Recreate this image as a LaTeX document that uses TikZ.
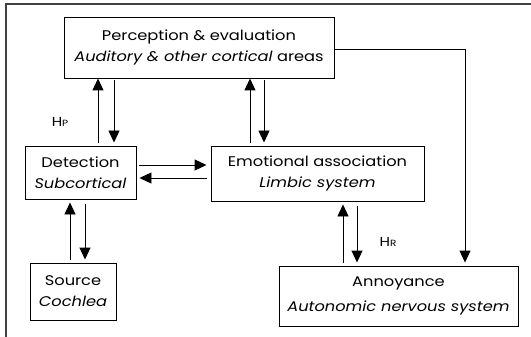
\documentclass[tikz,border=0pt]{standalone}
\usepackage{fontspec}
\setmainfont{Poppins}[FakeStretch=1.16]
\usetikzlibrary{arrows.meta}
\begin{document}
\begin{tikzpicture}[x=1pt,y=-1pt,
  box/.style={draw=black,line width=0.9pt,align=center,inner sep=0pt,font=\fontsize{14}{21}\selectfont},
  arr/.style={line width=0.9pt,-{Triangle[length=12pt,width=11pt]}},
  ln/.style={line width=0.9pt},
  lbl/.style={font=\fontsize{13}{15}\selectfont}]
\useasboundingbox (0,0) rectangle (531,337);
\draw[line width=1.4pt,draw=black!75] (6,337) -- (6,4) -- (531,4);
\node[box,minimum width=270pt,minimum height=61pt] (perc) at (199,47.5)
  {Perception \& evaluation\\ \textit{Auditory \& other cortical} areas};
\node[box,minimum width=111pt,minimum height=53pt] (det) at (80.5,172.5)
  {Detection\\ \textit{Subcortical}};
\node[box,minimum width=213pt,minimum height=55pt] (emo) at (317.5,173.5)
  {Emotional association\\ \textit{Limbic system}};
\node[box,minimum width=86pt,minimum height=57pt] (src) at (73,291.5)
  {Source\\ \textit{Cochlea}};
\node[box,minimum width=239pt,minimum height=60pt,font=\fontsize{14}{25}\selectfont] (ann) at (398.5,296)
  {Annoyance\\ \textit{Autonomic nervous system}};
% perception <-> detection
\draw[arr,shorten <=3pt] (det.north -| 98,0) -- (perc.south -| 98,0);
\draw[arr,shorten <=2pt,shorten >=3pt] (perc.south -| 114,0) -- (det.north -| 114,0);
% perception <-> emotional
\draw[arr,shorten <=3pt] (emo.north -| 250,0) -- (perc.south -| 250,0);
\draw[arr,shorten <=2pt,shorten >=3pt] (perc.south -| 264,0) -- (emo.north -| 264,0);
% detection <-> emotional
\draw[arr,shorten <=3pt,shorten >=4pt] (det.east |- 0,165) -- (emo.west |- 0,165);
\draw[arr,shorten <=4pt,shorten >=3pt] (emo.west |- 0,178) -- (det.east |- 0,178);
% detection <-> source
\draw[arr,shorten <=3pt,shorten >=3pt] (src.north -| 70,0) -- (det.south -| 70,0);
\draw[arr,shorten <=5pt,shorten >=3pt] (det.south -| 85,0) -- (src.north -| 85,0);
% emotional <-> annoyance
\draw[arr,shorten <=3pt,shorten >=3pt] (ann.north -| 343,0) -- (emo.south -| 343,0);
\draw[arr,shorten <=5pt,shorten >=3pt] (emo.south -| 357,0) -- (ann.north -| 357,0);
% perception -> annoyance
\coordinate (corner) at (465,49);
\draw[ln] (perc.east |- corner) -- (corner);
\draw[arr,shorten >=3pt] (corner) -- (ann.north -| corner);
% labels
\node[lbl] (hp) at (60,122) {H{\fontsize{9}{10}\selectfont P}};
\node[lbl] (hr) at (388,242) {H{\fontsize{9}{10}\selectfont R}};
\end{tikzpicture}
\end{document}
